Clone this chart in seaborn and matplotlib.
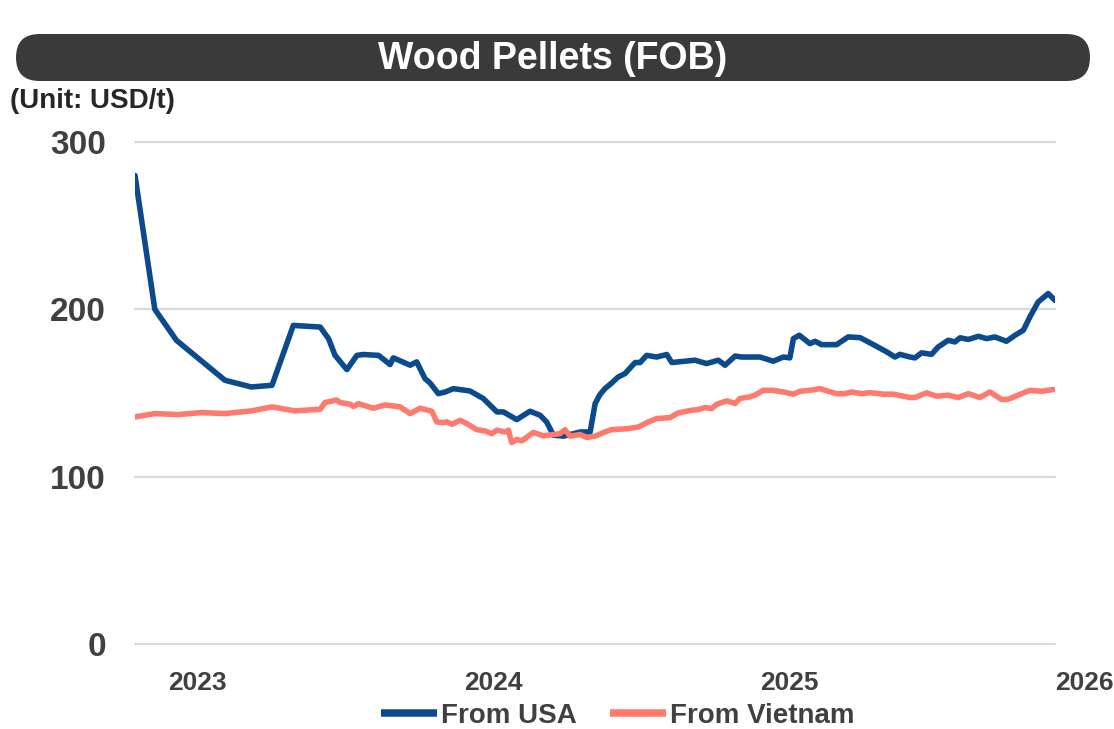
import matplotlib
matplotlib.use("Agg")
import matplotlib.pyplot as plt
import matplotlib.transforms as mtransforms
from matplotlib.lines import Line2D
from matplotlib.patches import FancyBboxPatch
import pandas as pd
import seaborn as sns

# ---- data (time as decimal year, price in USD/t) ----
usa_time = [
    2022.790, 2022.857, 2022.930, 2023.094, 2023.183, 2023.253, 2023.325, 2023.416,
    2023.444, 2023.466, 2023.506, 2023.540, 2023.562, 2023.613, 2023.652, 2023.663,
    2023.720, 2023.742, 2023.770, 2023.787, 2023.815, 2023.838, 2023.866, 2023.922,
    2023.967, 2024.013, 2024.035, 2024.080, 2024.125, 2024.159, 2024.181, 2024.204,
    2024.238, 2024.294, 2024.328, 2024.345, 2024.361, 2024.378, 2024.401, 2024.423,
    2024.446, 2024.480, 2024.497, 2024.519, 2024.553, 2024.587, 2024.604, 2024.682,
    2024.722, 2024.761, 2024.784, 2024.818, 2024.840, 2024.885, 2024.902, 2024.947,
    2024.981, 2025.003, 2025.015, 2025.035, 2025.071, 2025.088, 2025.110, 2025.161,
    2025.200, 2025.240, 2025.279, 2025.330, 2025.358, 2025.375, 2025.409, 2025.426,
    2025.448, 2025.482, 2025.504, 2025.538, 2025.561, 2025.578, 2025.606, 2025.640,
    2025.668, 2025.696, 2025.735, 2025.764, 2025.792, 2025.814, 2025.842, 2025.876,
    2025.899,
]
usa_price = [
    280.0, 200.0, 181.5, 157.6, 153.6, 154.6, 190.4, 189.4,
    182.5, 172.5, 164.0, 172.5, 173.0, 172.5, 167.0, 171.0,
    166.6, 168.6, 158.6, 156.0, 149.6, 150.6, 152.6, 151.2,
    146.7, 138.7, 138.7, 134.1, 139.1, 136.7, 132.7, 124.8,
    124.2, 126.7, 126.7, 143.7, 149.0, 152.6, 156.0, 159.6,
    161.6, 168.2, 168.2, 172.5, 171.5, 173.0, 168.2, 169.6,
    167.6, 169.6, 166.6, 172.1, 171.5, 171.5, 171.5, 169.0,
    171.5, 171.0, 182.5, 184.5, 179.5, 180.9, 178.9, 178.9,
    183.5, 183.1, 179.5, 174.6, 171.5, 173.1, 171.5, 171.0,
    174.0, 173.1, 177.5, 181.5, 180.5, 183.0, 182.0, 183.9,
    182.5, 183.5, 180.9, 184.5, 187.5, 195.4, 204.4, 209.4,
    205.4,
]

vn_time = [
    2022.790, 2022.857, 2022.936, 2023.015, 2023.094, 2023.183, 2023.253, 2023.331,
    2023.416, 2023.432, 2023.472, 2023.483, 2023.517, 2023.528, 2023.545, 2023.596,
    2023.635, 2023.686, 2023.720, 2023.753, 2023.793, 2023.810, 2023.832, 2023.844,
    2023.861, 2023.889, 2023.911, 2023.945, 2023.973, 2023.996, 2024.013, 2024.041,
    2024.052, 2024.063, 2024.080, 2024.097, 2024.136, 2024.170, 2024.204, 2024.226,
    2024.243, 2024.260, 2024.294, 2024.317, 2024.345, 2024.378, 2024.401, 2024.457,
    2024.491, 2024.525, 2024.553, 2024.598, 2024.626, 2024.671, 2024.694, 2024.716,
    2024.739, 2024.756, 2024.790, 2024.818, 2024.834, 2024.868, 2024.885, 2024.913,
    2024.947, 2024.981, 2025.015, 2025.037, 2025.071, 2025.105, 2025.133, 2025.161,
    2025.189, 2025.212, 2025.246, 2025.274, 2025.319, 2025.352, 2025.409, 2025.426,
    2025.465, 2025.499, 2025.538, 2025.572, 2025.606, 2025.645, 2025.679, 2025.719,
    2025.741, 2025.780, 2025.814, 2025.854, 2025.893,
]
vn_price = [
    135.7, 137.7, 137.1, 138.3, 137.7, 139.3, 141.7, 139.3,
    140.3, 144.3, 145.8, 144.3, 143.3, 141.9, 143.6, 140.9,
    142.9, 141.7, 137.7, 140.9, 139.1, 132.7, 132.3, 132.7,
    131.3, 133.7, 131.7, 128.1, 127.3, 125.7, 127.8, 126.7,
    127.8, 120.4, 122.2, 121.4, 126.4, 124.4, 125.2, 125.7,
    128.1, 124.2, 125.2, 123.4, 124.2, 126.7, 128.1, 128.7,
    129.7, 132.7, 134.7, 135.3, 138.1, 139.7, 140.1, 141.3,
    140.7, 143.3, 145.3, 143.7, 146.7, 147.7, 148.7, 151.6,
    151.6, 150.6, 149.3, 151.0, 151.6, 152.6, 151.0, 149.6,
    149.6, 150.6, 149.6, 150.2, 149.3, 149.3, 147.3, 147.3,
    150.1, 148.1, 148.7, 147.3, 149.6, 147.3, 150.6, 146.1,
    146.3, 149.1, 151.6, 151.0, 152.1,
]

series_names = ["From USA", "From Vietnam"]
series_colors = ["#0C4A8E", "#FF7A6E"]
year_labels = [2023, 2024, 2025, 2026]
y_ticks = [0, 100, 200, 300]
title_text = "Wood Pellets (FOB)"
unit_text = "(Unit: USD/t)"

# ---- styling ----
sns.set_theme(style="white")
plt.rcParams["font.family"] = ["Liberation Sans", "DejaVu Sans"]
text_color = "#404040"

df = pd.concat(
    [
        pd.DataFrame({"time": usa_time, "price": usa_price, "series": series_names[0]}),
        pd.DataFrame({"time": vn_time, "price": vn_price, "series": series_names[1]}),
    ],
    ignore_index=True,
)
palette = dict(zip(series_names, series_colors))

W, H = 1114, 729
fig = plt.figure(figsize=(W / 100, H / 100), dpi=100)
fig.patch.set_facecolor("white")

# plotting area in pixel terms
left, right, top, bottom = 135, 1055, 142, 644
ax = fig.add_axes([left / W, 1 - bottom / H, (right - left) / W, (bottom - top) / H])

sns.lineplot(
    data=df, x="time", y="price", hue="series", hue_order=series_names,
    palette=palette, linewidth=4.0, estimator=None, sort=False,
    legend=False, ax=ax,
)
for line in ax.get_lines():
    line.set_solid_joinstyle("round")
    line.set_solid_capstyle("round")

ax.set_xlim(min(usa_time), max(usa_time))
ax.set_ylim(y_ticks[0], y_ticks[-1])
ax.set_yticks(y_ticks)
ax.set_yticklabels([str(v) for v in y_ticks], fontsize=24, fontweight="bold", color=text_color)
ax.tick_params(axis="y", length=0, pad=21)
ax.set_xticks([])
ax.set_xlabel("")
ax.set_ylabel("")
ax.yaxis.grid(True, color="#D9D9D9", linewidth=1.6)
ax.set_axisbelow(True)
for gl in ax.get_ygridlines():
    gl.set_clip_on(False)
for sp in ax.spines.values():
    sp.set_visible(False)

# year labels along the bottom (the last one sits past the final data point)
trans = mtransforms.blended_transform_factory(ax.transData, ax.transAxes)
for yr in year_labels:
    ax.text(yr, (bottom - 683) / (bottom - top), str(yr), transform=trans,
            ha="center", va="center", fontsize=19, fontweight="bold",
            color=text_color, clip_on=False)

# legend with flat-ended line keys
handles = [Line2D([0], [0], color=c, linewidth=5.4, solid_capstyle="butt")
           for c in series_colors]
leg = fig.legend(
    handles, series_names, loc="center", bbox_to_anchor=(618 / W, 1 - 716 / H),
    ncol=2, frameon=False, handlelength=2.0, handletextpad=0.15,
    columnspacing=1.2, prop={"size": 20, "weight": "bold"},
)
for t in leg.get_texts():
    t.set_color(text_color)

# title banner with fully rounded ends
bx0, bx1, by0, by1 = 16, 1090, 34, 81
bw, bh = bx1 - bx0, by1 - by0
bax = fig.add_axes([bx0 / W, 1 - by1 / H, bw / W, bh / H])
bax.set_xlim(0, bw)
bax.set_ylim(0, bh)
bax.axis("off")
bax.add_patch(FancyBboxPatch((0, 0), bw, bh,
                             boxstyle=f"round,pad=0,rounding_size={bh / 2}",
                             facecolor="#3A3A3A", edgecolor="none"))
bax.text(bw / 2, bh / 2 - 1.5, title_text, ha="center", va="center",
         fontsize=27, fontweight="bold", color="white")

# unit note
fig.text(10 / W, 1 - 101 / H, unit_text, ha="left", va="center",
         fontsize=20, fontweight="bold", color="#262626")

fig.savefig("out.png", dpi=100, facecolor="white")
